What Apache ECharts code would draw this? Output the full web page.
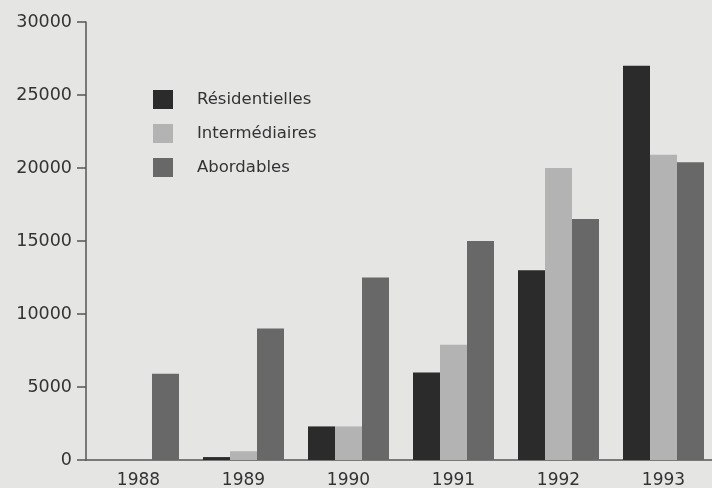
<!DOCTYPE html>
<html>
<head>
<meta charset="utf-8">
<script src="https://cdn.jsdelivr.net/npm/echarts@6/dist/echarts.min.js"></script>
<style>
  html, body { margin: 0; padding: 0; background: #e5e5e4; }
  #chart { width: 712px; height: 488px; }
</style>
</head>
<body>
<div id="chart"></div>
<script>
// Years on the horizontal axis
const years = ['1988', '1989', '1990', '1991', '1992', '1993'];

// Values per housing category
const residentielles = [0, 200, 2300, 6000, 13000, 27000];
const intermediaires = [0, 600, 2300, 7900, 20000, 20900];
const abordables = [5900, 9000, 12500, 15000, 16500, 20400];

// Vertical axis range
const yMin = 0;
const yMax = 30000;
const yStep = 5000;

const font = 'DejaVu Sans';

const chart = echarts.init(document.getElementById('chart'), null, { renderer: 'canvas' });

function barSeries(name, data, color) {
  return {
    name: name,
    type: 'bar',
    data: data,
    barWidth: 27,
    barGap: '0%',
    itemStyle: { color: color },
    emphasis: { disabled: true }
  };
}

chart.setOption({
  backgroundColor: '#e5e5e4',
  animation: false,
  textStyle: { fontFamily: font },
  grid: {
    left: 86, top: 22, width: 630, bottom: 28,
    containLabel: false,
    outerBoundsMode: 'none'
  },
  legend: {
    orient: 'vertical',
    left: 148,
    top: 85,
    itemWidth: 20,
    itemHeight: 19,
    itemGap: 15,
    icon: 'rect',
    textStyle: { fontFamily: font, fontSize: 16.5, color: '#333', padding: [0, 0, 0, 19] },
    data: ['Résidentielles', 'Intermédiaires', 'Abordables']
  },
  xAxis: {
    type: 'category',
    data: years,
    axisLine: { lineStyle: { color: '#555', width: 1.5 } },
    axisTick: { alignWithLabel: true, length: 7, lineStyle: { color: '#555', width: 1.5 } },
    axisLabel: { fontFamily: font, fontSize: 17, color: '#333', margin: 12 }
  },
  yAxis: {
    type: 'value',
    min: yMin,
    max: yMax,
    interval: yStep,
    splitLine: { show: false },
    axisLine: { show: true, lineStyle: { color: '#555', width: 1.5 } },
    axisTick: { show: true, length: 9, lineStyle: { color: '#555', width: 1.5 } },
    axisLabel: {
      fontFamily: font, fontSize: 17.5, color: '#333', margin: 14,
      formatter: function (v) { return String(v); }
    }
  },
  series: [
    barSeries('Résidentielles', residentielles, '#2b2b2b'),
    barSeries('Intermédiaires', intermediaires, '#b3b3b3'),
    barSeries('Abordables', abordables, '#686868')
  ]
});
</script>
</body>
</html>
